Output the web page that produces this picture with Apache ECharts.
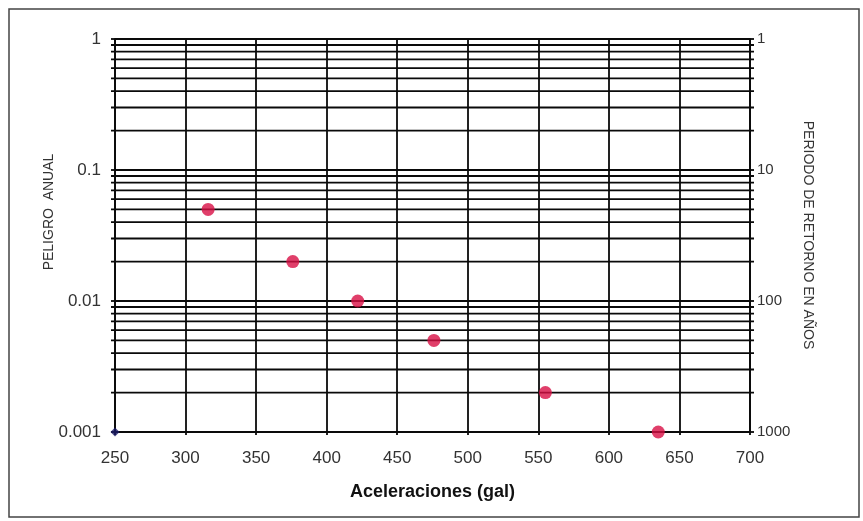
<!DOCTYPE html>
<html>
<head>
<meta charset="utf-8">
<script src="https://cdn.jsdelivr.net/npm/echarts@6/dist/echarts.min.js"></script>
<style>
html,body{margin:0;padding:0;background:#fff;}
#chart{width:863px;height:521px;}
</style>
</head>
<body>
<div id="chart"></div>
<script>
var aceleraciones = [316, 376, 422, 476, 555, 635];
var peligroAnual = [0.05, 0.02, 0.01, 0.005, 0.002, 0.001];
var origenX = [250];
var origenY = [0.001];
var minorGridValues = [
  0.002,0.003,0.004,0.005,0.006,0.007,0.008,0.009,
  0.02,0.03,0.04,0.05,0.06,0.07,0.08,0.09,
  0.2,0.3,0.4,0.5,0.6,0.7,0.8,0.9
];
var xMin = 250, xMax = 700, xStep = 50;

var chart = echarts.init(document.getElementById('chart'), null, {renderer:'canvas'});
var font = 'Liberation Sans, Arial, sans-serif';
var gridLine = {color:'#0a0a0a', width:1.8};

var option = {
  backgroundColor:'#fff',
  animation:false,
  grid:{left:115, right:113, top:39, bottom:89, containLabel:false},
  xAxis:{
    type:'value', min:xMin, max:xMax, interval:xStep,
    axisLine:{show:true, onZero:false, lineStyle:gridLine},
    axisTick:{show:true, inside:false, length:3, lineStyle:gridLine},
    splitLine:{show:true, lineStyle:gridLine},
    axisLabel:{color:'#333', fontSize:17, fontFamily:font, margin:18},
    name:'Aceleraciones (gal)', nameLocation:'middle', nameGap:51,
    nameTextStyle:{color:'#111', fontSize:18, fontWeight:'bold', fontFamily:font}
  },
  yAxis:[{
    type:'log', logBase:10, min:0.001, max:1, interval:1,
    axisLine:{show:true, lineStyle:gridLine},
    axisTick:{show:true, length:4, lineStyle:gridLine},
    splitLine:{show:true, lineStyle:gridLine},
    axisLabel:{color:'#333', fontSize:17, fontFamily:font, margin:14,
      formatter:function(v){return String(+v.toPrecision(3));}}
  },{
    type:'log', logBase:10, min:0.001, max:1, interval:1, position:'right',
    axisLine:{show:true, lineStyle:gridLine},
    axisTick:{show:true, length:4, lineStyle:gridLine},
    splitLine:{show:false},
    axisLabel:{color:'#333', fontSize:15, fontFamily:font, margin:7,
      formatter:function(v){return String(Math.round(1/v));}}
  }],
  graphic:[
    {type:'rect', shape:{x:9, y:9, width:850, height:508}, style:{fill:'none', stroke:'#444', lineWidth:1.5}, z:-1},
    {type:'text', x:49, y:212, rotation:Math.PI/2, style:{text:'PELIGRO  ANUAL', fill:'#333', font:'14px '+font, textAlign:'center', textVerticalAlign:'middle'}},
    {type:'text', x:808, y:235, rotation:-Math.PI/2, style:{text:'PERIODO DE RETORNO EN AÑOS', fill:'#333', font:'14px '+font, textAlign:'center', textVerticalAlign:'middle'}}
  ],
  series:[
    {
      type:'custom', yAxisIndex:0, silent:true, z:1,
      data:minorGridValues.map(function(v){return [v];}),
      renderItem:function(params, api){
        var v = api.value(0);
        var p1 = api.coord([xMin, v]);
        var p2 = api.coord([xMax, v]);
        return {type:'line', shape:{x1:p1[0]-4, y1:p1[1], x2:p2[0]+4, y2:p2[1]},
          style:{stroke:'#0a0a0a', lineWidth:1.8}};
      },
      encode:{y:0}
    },
    {
      type:'scatter', yAxisIndex:0, symbol:'circle', symbolSize:13,
      itemStyle:{color:'#d80f45'},
      data:aceleraciones.map(function(x,i){return [x, peligroAnual[i]];}),
      z:5
    },
    {
      type:'scatter', yAxisIndex:0, symbol:'diamond', symbolSize:9,
      itemStyle:{color:'#1a1a66'},
      data:origenX.map(function(x,i){return [x, origenY[i]];}),
      z:6
    }
  ]
};
chart.setOption(option);
</script>
</body>
</html>
